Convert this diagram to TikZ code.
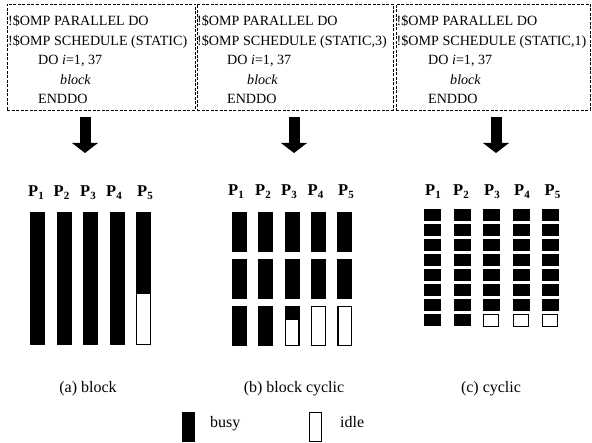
\documentclass[tikz,border=0pt]{standalone}
\usepackage{fontspec}
\setmainfont{Liberation Serif}
\usetikzlibrary{arrows.meta}

\newcommand{\proc}[1]{\textbf{P\raisebox{-0.3ex}{\fontsize{11}{11}\selectfont #1}}}

\begin{document}
\begin{tikzpicture}[
    x=1pt, y=-1pt,
    codebox/.style={draw, dash pattern=on 3pt off 1.5pt, line width=0.6pt, inner sep=0pt},
    code/.style={anchor=base west, inner sep=0pt, font=\fontsize{14.1}{17}\selectfont},
    down/.style={line width=11pt, -{Triangle[width=26pt, length=10pt, line width=0pt]}},
    busy/.style={fill=black},
    idle/.style={draw=black, fill=white, line width=1.3pt},
    plabel/.style={anchor=base west, inner sep=0pt, font=\fontsize{16.5}{18}\selectfont},
    caption/.style={anchor=base, inner sep=0pt, font=\fontsize{16}{18}\selectfont},
]
    \useasboundingbox (0,0) rectangle (592,443);

    % code boxes
    \node[codebox, minimum width=188pt, minimum height=106pt] (boxA) at (101,57) {};
    \node[codebox, minimum width=196pt, minimum height=106pt] (boxB) at (295,57) {};
    \node[codebox, minimum width=194pt, minimum height=106pt] (boxC) at (493,57) {};

    \foreach \n/\xa/\xb/\xc/\sched in {A/8/38/60/{(STATIC)}, B/197/227/247/{(STATIC,3)}, C/396.5/428/450/{(STATIC,1)}} {
        \node[code] (\n-l1) at (\xa,26) {!\$OMP PARALLEL DO};
        \node[code] (\n-l2) at (\xa,45.5) {!\$OMP SCHEDULE \sched};
        \node[code] (\n-l3) at (\xb,65) {DO \textit{i}=1, 37};
        \node[code] (\n-l4) at (\xc,84.5) {\textit{block}};
        \node[code] (\n-l5) at (\xb,104) {ENDDO};
    }

    % arrows
    \foreach \n/\x in {A/85, B/294, C/496} {
        \coordinate (\n-top) at (\x,117);
        \coordinate (\n-tip) at (\x,153);
        \draw[down] (\n-top) -- (\n-tip);
    }

    % (a) block
    \foreach \i/\x in {1/28, 2/53.5, 3/80, 4/106, 5/137}
        \node[plabel] (a-p\i) at (\x,197) {\proc{\i}};
    \foreach \x in {30, 56.5, 83, 109.5}
        \fill[busy] (\x,212) rectangle +(15,133);
    \fill[busy] (136,212) rectangle (151,293);
    \draw[idle] (136.65,293.65) rectangle (150.35,344.35);

    % (b) block cyclic
    \foreach \i/\x in {1/228, 2/255, 3/281, 4/307.5, 5/338}
        \node[plabel] (b-p\i) at (\x,196) {\proc{\i}};
    \foreach \k in {0,1,2} {
        \foreach \x in {232, 258.3} \fill[busy] (\x,212+47*\k) rectangle +(15,40);
    }
    \foreach \k in {0,1} {
        \foreach \x in {284.6, 310.9, 337.2} \fill[busy] (\x,212+47*\k) rectangle +(15,40);
    }
    \fill[busy] (284.6,306) rectangle +(15,13.3);
    \draw[idle] (285.25,319.3) rectangle (298.95,345.35);
    \foreach \x in {310.9, 337.2}
        \draw[idle] (\x+0.65,306.65) rectangle (\x+14.35,345.35);

    % (c) cyclic
    \foreach \i/\x in {1/425, 2/453, 3/484, 4/514, 5/544.5}
        \node[plabel] (c-p\i) at (\x,196) {\proc{\i}};
    \foreach \x in {424, 453.5, 483, 512.5, 542} {
        \foreach \k in {0,...,6} \fill[busy] (\x,209+15*\k) rectangle +(17,12.5);
    }
    \foreach \x in {424, 453.5} \fill[busy] (\x,314) rectangle +(17,12.5);
    \foreach \x in {483, 512.5, 542}
        \draw[idle, line width=1pt] (\x+0.5,314.5) rectangle (\x+15.5,326.5);

    % captions
    \node[caption] (cap-a) at (88,393) {(a) block};
    \node[caption] (cap-b) at (294,393) {(b) block cyclic};
    \node[caption] (cap-c) at (491,393) {(c) cyclic};

    % legend
    \node[busy, inner sep=0pt, minimum width=13pt, minimum height=30pt] (key-busy) at (188.5,427) {};
    \node[caption, anchor=base west] (busy-text) at (210,428) {busy};
    \node[idle, inner sep=0pt, minimum width=11.7pt, minimum height=28.7pt] (key-idle) at (315.5,427) {};
    \node[caption, anchor=base west] (idle-text) at (340,428) {idle};

\end{tikzpicture}
\end{document}
